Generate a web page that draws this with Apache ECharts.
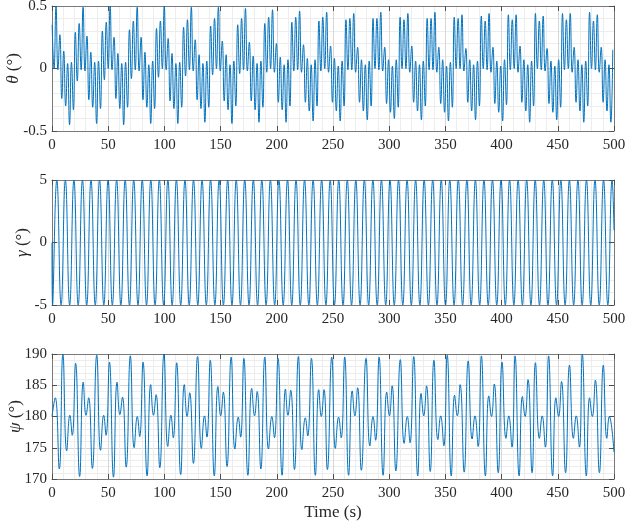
<!DOCTYPE html>
<html>
<head>
<meta charset="utf-8">
<script src="https://cdn.jsdelivr.net/npm/echarts@6/dist/echarts.min.js"></script>
<style>
  html, body { margin: 0; padding: 0; background: #fff; }
  #chart { width: 626px; height: 528px; }
</style>
</head>
<body>
<div id="chart"></div>
<script>
// ---- data ----
// theta: extrema of the fast oscillation, sampled every half period
const thetaStart = 0.12
const thetaStep = 1.72
const thetaVals = [
  0.35, 0.00,
  0.50, -0.01, 0.27, -0.24, 0.14, -0.30, 0.04, -0.45, 0.05, -0.33, 0.29, -0.10, 0.36, -0.01,
  0.49, -0.02, 0.26, -0.25, 0.13, -0.31, 0.05, -0.44, 0.06, -0.32, 0.30, -0.09, 0.37, 0.00,
  0.50, -0.01, 0.25, -0.24, 0.12, -0.32, 0.04, -0.45, 0.05, -0.31, 0.31, -0.08, 0.38, -0.01,
  0.49, -0.02, 0.25, -0.25, 0.13, -0.31, 0.03, -0.44, 0.06, -0.32, 0.32, -0.07, 0.38, 0.00,
  0.50, -0.01, 0.24, -0.26, 0.12, -0.32, 0.04, -0.44, 0.05, -0.31, 0.33, -0.06, 0.39, -0.01,
  0.49, -0.02, 0.23, -0.25, 0.11, -0.32, 0.04, -0.43, 0.06, -0.31, 0.34, -0.05, 0.40, 0.00,
  0.49, -0.02, 0.22, -0.26, 0.11, -0.33, 0.03, -0.44, 0.06, -0.30, 0.35, -0.04, 0.40, -0.01,
  0.48, -0.02, 0.21, -0.26, 0.10, -0.33, 0.04, -0.43, 0.06, -0.31, 0.36, -0.03, 0.41, 0.00,
  0.47, -0.03, 0.20, -0.27, 0.09, -0.33, 0.03, -0.43, 0.07, -0.30, 0.37, -0.02, 0.41, -0.01,
  0.46, -0.03, 0.19, -0.27, 0.08, -0.34, 0.03, -0.42, 0.07, -0.30, 0.38, -0.02, 0.41, 0.00,
  0.45, -0.03, 0.18, -0.27, 0.08, -0.34, 0.02, -0.42, 0.06, -0.30, 0.39, -0.01, 0.40, -0.01,
  0.44, -0.03, 0.17, -0.27, 0.07, -0.34, 0.03, -0.41, 0.06, -0.30, 0.40, 0.00, 0.40, -0.01,
  0.45, -0.02, 0.17, -0.28, 0.07, -0.35, 0.02, -0.40, 0.07, -0.31, 0.41, 0.00, 0.39, 0.00,
  0.44, -0.03, 0.18, -0.27, 0.06, -0.34, 0.03, -0.41, 0.06, -0.30, 0.40, -0.01, 0.40, -0.01,
  0.45, -0.03, 0.17, -0.28, 0.07, -0.35, 0.02, -0.42, 0.05, -0.31, 0.41, 0.00, 0.40, 0.00,
  0.43, -0.02, 0.16, -0.27, 0.07, -0.34, 0.03, -0.41, 0.06, -0.30, 0.42, 0.00, 0.38, -0.01,
  0.44, -0.03, 0.17, -0.28, 0.06, -0.35, 0.02, -0.42, 0.07, -0.29, 0.43, -0.01, 0.39, 0.00,
  0.43, -0.03, 0.18, -0.27, 0.07, -0.34, 0.03, -0.43, 0.06, -0.30, 0.44, 0.00, 0.38, -0.01,
  0.42, -0.02, 0.16, -0.28, 0.06, -0.35, 0.02, -0.41, 0.07, -0.31, 0.44, -0.01, 0.39, 0.00,
  0.44, -0.03, 0.17, -0.27, 0.07, -0.34, 0.03, -0.43, 0.06, -0.30, 0.45, 0.00, 0.38, -0.01,
  0.43, -0.03, 0.17, -0.27, 0.07, -0.34, 0.03, -0.43, 0.15
]

// gamma: steady sinusoid, extrema every half period
const gammaHead = [[0, 0]]
const gammaStart = 0.5
const gammaStep = 3.8
const gammaVals = [
  -5, 5, -5, 5, -5, 5, -5, 5, -5, 5, -5, 5, -5, 5, -5, 5, -5, 5, -5, 5,
  -5, 5, -5, 5, -5, 5, -5, 5, -5, 5, -5, 5, -5, 5, -5, 5, -5, 5, -5, 5,
  -5, 5, -5, 5, -5, 5, -5, 5, -5, 5, -5, 5, -5, 5, -5, 5, -5, 5, -5, 5,
  -5, 5, -5, 5, -5, 5, -5, 5, -5, 5, -5, 5, -5, 5, -5, 5, -5, 5, -5, 5,
  -5, 5, -5, 5, -5, 5, -5, 5, -5, 5, -5, 5, -5, 5, -5, 5, -5, 5, -5, 5,
  -5, 5, -5, 5, -5, 5, -5, 5, -5, 5, -5, 5, -5, 5, -5, 5, -5, 5, -5, 5,
  -5, 5, -5, 5, -5, 5, -5, 5, -5, 5, -5, 5
]
const gammaTail = [[500, 1]]

// psi: [time, value] of each turning point
const psiPts = [
  [0, 180.0], [2.9, 183.0], [6.5, 171.6],
  [9.7, 190.0], [13.1, 174.5], [15.9, 180.2], [18.0, 177.0], [21.0, 188.5], [24.6, 170.4], [27.8, 185.5], [30.3, 180.2], [32.6, 183.0], [35.9, 171.7],
  [39.8, 189.8], [43.2, 174.6], [46.0, 180.2], [48.1, 177.0], [51.1, 188.7], [54.7, 170.3], [57.9, 185.5], [60.4, 180.3], [62.7, 183.1], [66.0, 171.9],
  [69.7, 189.7], [73.1, 175.0], [75.9, 180.0], [78.0, 176.8], [81.0, 188.7], [84.6, 170.5], [87.8, 185.1], [90.3, 180.2], [92.6, 183.5], [95.9, 171.8],
  [99.6, 190.0], [103.0, 175.2], [105.8, 180.2], [107.9, 176.6], [110.9, 188.6], [114.5, 170.7], [117.7, 185.1], [120.2, 180.0], [122.5, 183.8], [125.8, 172.5],
  [129.5, 189.6], [132.9, 174.9], [135.7, 180.1], [137.8, 176.7], [140.8, 189.0], [144.4, 170.5], [147.6, 184.8], [150.1, 180.1], [152.4, 183.9], [155.7, 172.0],
  [159.4, 189.5], [162.7, 174.8], [165.7, 179.9], [167.8, 176.7], [170.7, 189.3], [174.3, 170.6], [177.7, 184.5], [180.2, 180.1], [182.5, 184.0], [185.8, 171.6],
  [189.3, 189.5], [192.6, 174.8], [195.6, 180.0], [197.9, 176.6], [201.1, 189.3], [204.7, 170.6], [207.7, 184.4], [209.9, 180.2], [212.4, 184.2], [215.7, 171.5],
  [219.2, 189.6], [222.3, 174.7], [225.4, 179.8], [227.5, 176.9], [230.8, 189.3], [234.3, 170.6], [237.3, 184.3], [239.6, 180.0], [242.0, 184.3], [245.0, 171.5],
  [248.9, 189.5], [252.1, 174.9], [255.0, 179.9], [257.3, 176.6], [260.4, 189.5], [263.9, 170.6], [267.1, 184.1], [269.5, 180.1], [271.9, 184.6], [275.2, 171.4],
  [279.4, 189.3], [282.8, 175.3], [285.6, 180.0], [287.9, 176.2], [291.0, 189.5], [294.6, 170.6], [297.8, 183.9], [300.2, 180.1], [302.6, 184.9], [305.9, 171.3],
  [309.9, 189.1], [313.3, 175.7], [316.1, 180.0], [318.5, 175.8], [321.8, 189.6], [325.4, 170.5], [328.4, 183.7], [330.7, 180.1], [333.2, 184.9], [336.5, 171.2],
  [339.8, 189.0], [343.3, 176.3], [345.8, 180.1], [348.6, 175.3], [351.6, 189.8], [355.2, 170.5], [358.2, 183.4], [360.6, 180.1], [363.1, 185.1], [366.7, 171.1],
  [370.3, 188.9], [373.8, 176.4], [376.3, 180.1], [379.1, 175.2], [382.0, 189.7], [385.6, 170.5], [388.6, 183.3], [391.0, 180.0], [393.5, 185.2], [397.0, 171.0],
  [400.4, 188.7], [403.9, 176.5], [406.4, 180.1], [409.2, 175.1], [412.0, 189.7], [415.6, 170.5], [418.5, 183.2], [420.9, 180.0], [423.5, 185.9], [427.1, 171.0],
  [430.1, 188.6], [433.6, 176.5], [436.1, 180.1], [438.9, 175.1], [441.8, 189.7], [445.4, 170.5], [448.3, 183.0], [450.7, 180.0], [453.3, 185.6], [456.9, 171.0],
  [460.4, 188.2], [463.9, 176.5], [466.4, 180.1], [469.2, 175.1], [471.8, 190.0], [475.4, 170.5], [478.3, 183.0], [480.7, 180.0], [483.4, 185.8], [487.0, 171.0],
  [490.5, 188.2], [493.6, 176.5], [495.8, 180.0], [500, 174.3]
]

// axis ranges and labels
const timeRange = [0, 500, 50]
const thetaRange = [-0.5, 0.5, 0.5]
const gammaRange = [-5, 5, 5]
const psiRange = [170, 190, 5]
const yNames = ['{it|θ} (°)', '{it|γ} (°)', '{it|ψ} (°)']
const xName = 'Time (s)'

// ---- styling helpers ----
const FONT = 'Liberation Serif'
const TEXT = '#262626'
const BOX = '#7a7a7a'
const LINE = '#0072BD'

const axisLine = () => ({ show: true, onZero: false, lineStyle: { color: BOX, width: 1 } })
const axisTick = () => ({ show: true, inside: true, length: 5, lineStyle: { color: '#4d4d4d' } })
const splitLine = () => ({ show: true, lineStyle: { color: '#d6d6d6', width: 1 } })
const minorSplitLine = () => ({ show: true, lineStyle: { color: '#ededed', width: 1 } })
const axisLabel = (margin) => ({ fontFamily: FONT, fontSize: 15, color: TEXT, margin })

function seriesFromStep(start, step, vals) {
  return vals.map((v, i) => [start + i * step, v])
}

const grids = [
  { left: 52, right: 12, top: 6, height: 125, outerBoundsMode: 'none', containLabel: false },
  { left: 52, right: 12, top: 180, height: 125, outerBoundsMode: 'none', containLabel: false },
  { left: 52, right: 12, top: 354, height: 125, outerBoundsMode: 'none', containLabel: false }
]
const yRanges = [thetaRange, gammaRange, psiRange]
const nameGaps = [30, 21, 28]

const xAxis = []
const yAxis = []
grids.forEach((g, gi) => {
  const xBase = {
    type: 'value', gridIndex: gi,
    min: timeRange[0], max: timeRange[1], interval: timeRange[2],
    axisLine: axisLine(), axisTick: axisTick()
  }
  xAxis.push(Object.assign({}, xBase, {
    position: 'bottom',
    axisLabel: axisLabel(7),
    splitLine: splitLine(),
    minorTick: { show: false, splitNumber: 5 },
    minorSplitLine: minorSplitLine(),
    name: gi === 2 ? xName : '',
    nameLocation: 'middle',
    nameGap: 25,
    nameMoveOverlap: false,
    nameTextStyle: { fontFamily: FONT, fontSize: 17, color: TEXT }
  }))
  xAxis.push(Object.assign({}, xBase, {
    position: 'top',
    axisLabel: { show: false },
    splitLine: { show: false }
  }))

  const r = yRanges[gi]
  const yBase = {
    type: 'value', gridIndex: gi,
    min: r[0], max: r[1], interval: r[2],
    axisLine: axisLine(), axisTick: axisTick()
  }
  yAxis.push(Object.assign({}, yBase, {
    position: 'left',
    axisLabel: axisLabel(5),
    splitLine: splitLine(),
    minorTick: { show: false, splitNumber: 5 },
    minorSplitLine: minorSplitLine(),
    name: yNames[gi],
    nameLocation: 'middle',
    nameGap: nameGaps[gi],
    nameMoveOverlap: false,
    nameTextStyle: {
      fontFamily: FONT, fontSize: 17, color: TEXT,
      rich: { it: { fontFamily: FONT, fontSize: 17, fontStyle: 'italic', color: TEXT } }
    }
  }))
  yAxis.push(Object.assign({}, yBase, {
    position: 'right',
    axisLabel: { show: false },
    splitLine: { show: false }
  }))
})

const lineSeries = (gi, data) => ({
  type: 'line',
  xAxisIndex: gi * 2,
  yAxisIndex: gi * 2,
  data,
  showSymbol: false,
  smooth: true,
  lineStyle: { color: LINE, width: 1 },
  itemStyle: { color: LINE },
  emphasis: { disabled: true }
})

const chart = echarts.init(document.getElementById('chart'))
chart.setOption({
  animation: false,
  backgroundColor: '#fff',
  grid: grids,
  xAxis,
  yAxis,
  series: [
    lineSeries(0, seriesFromStep(thetaStart, thetaStep, thetaVals)),
    lineSeries(1, gammaHead.concat(seriesFromStep(gammaStart, gammaStep, gammaVals), gammaTail)),
    lineSeries(2, psiPts)
  ]
})
</script>
</body>
</html>
